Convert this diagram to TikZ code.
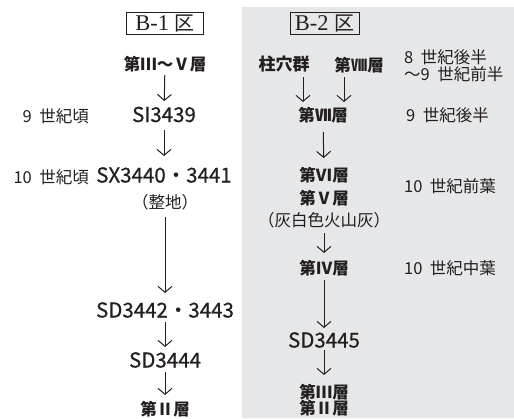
\documentclass[tikz,border=0pt]{standalone}
\usepackage{fontspec}
\setmainfont{Noto Sans CJK JP}
\newfontfamily\serifB{Liberation Serif}
\newfontfamily\codefont[FakeBold=0.6]{Noto Sans CJK JP}
\usetikzlibrary{arrows.meta}
\definecolor{panel}{RGB}{230,231,233}
\definecolor{ink}{RGB}{35,31,32}
\newcommand\boxlabel[1]{\fontsize{22.5}{23}\serifB #1\hspace{0.25em}\fontsize{20}{21}\normalfont 区}
\begin{document}
\begin{tikzpicture}[x=1pt,y=-1pt,
  every node/.style={text=ink, inner sep=0pt},
  ttl/.style={draw=ink, line width=0.9pt, minimum height=22pt},
  lay/.style={font=\fontsize{16.5}{18}\selectfont\bfseries},
  code/.style={font=\fontsize{20.5}{22}\codefont},
  era/.style={font=\fontsize{16.5}{17}\selectfont, align=left},
  note/.style={font=\fontsize{16.5}{18}\selectfont},
  arr/.style={draw=ink, line width=1pt, -{Straight Barb[length=6pt,width=14pt]}}]
\useasboundingbox (0,0) rectangle (514,418);
\fill[panel] (242,7) rectangle (514,418);
% left column
\node[ttl, minimum width=77pt] (b1) at (165,23.5) {\boxlabel{B-1}};
\node[lay] (l35) at (165,64) {第Ⅲ〜Ⅴ層};
\node[code] (si) at (164,114.5) {SI3439};
\node[code] (sx) at (164,175) {SX3440・3441};
\node[note] (sei) at (165,202) {（整地）};
\node[code] (sd42) at (165,310) {SD3442・3443};
\node[code] (sd44) at (165,360) {SD3444};
\node[lay] (l2a) at (165,409) {第Ⅱ層};
\node[era, anchor=east] (e9) at (89,116) {9\hspace{0.45em}世紀頃};
\node[era, anchor=east] (e10) at (89,177) {10\hspace{0.45em}世紀頃};
\draw[arr, shorten <=11pt, shorten >=13.5pt] (l35.center) -- (si.center);
\draw[arr, shorten <=15.5pt, shorten >=19pt] (si.center) -- (sx.center);
\draw[arr, shorten <=15pt, shorten >=17pt] (sei.center) -- (sd42.center);
\draw[arr, shorten <=12pt, shorten >=13pt] (sd42.center) -- (sd44.center);
\draw[arr, shorten <=12pt, shorten >=14pt] (sd44.center) -- (l2a.center);
% right column
\node[ttl, minimum width=69pt] (b2) at (324.5,23.5) {\boxlabel{B-2}};
\node[font=\fontsize{17}{18}\selectfont\bfseries] (zk) at (284,64) {柱穴群};
\node[lay] (l8) at (359,65) {第Ⅷ層};
\node[lay] (l7) at (323,115) {第Ⅶ層};
\node[lay] (l6) at (324,175) {第Ⅵ層};
\node[lay] (l5) at (324,198) {第Ⅴ層};
\node[note] (ash) at (324,220) {（灰白色火山灰）};
\node[lay] (l4) at (324,268) {第Ⅳ層};
\node[code] (sd45) at (324,340) {SD3445};
\node[lay] (l3) at (324,392) {第Ⅲ層};
\node[lay] (l2b) at (324,408) {第Ⅱ層};
\node[era, anchor=west] (e8) at (404,66) {8\hspace{0.45em}世紀後半\\〜9\hspace{0.45em}世紀前半};
\node[era, anchor=west] (e9b) at (406,115) {9\hspace{0.45em}世紀後半};
\node[era, anchor=west] (e10a) at (404,186) {10\hspace{0.45em}世紀前葉};
\node[era, anchor=west] (e10m) at (404,268) {10\hspace{0.45em}世紀中葉};
\draw[arr, shorten <=13pt, shorten >=13pt] ([xshift=19pt]zk.center) -- ([xshift=-20pt]l7.center);
\draw[arr, shorten <=12pt, shorten >=13pt] ([xshift=-15pt]l8.center) -- ([xshift=21pt]l7.center);
\draw[arr, shorten <=17pt, shorten >=17pt] (l7.center) -- (l6.center);
\draw[arr, shorten <=13pt, shorten >=15pt] (ash.center) -- (l4.center);
\draw[arr, shorten <=12pt, shorten >=12pt] (l4.center) -- (sd45.center);
\draw[arr, shorten <=10pt, shorten >=17pt] (sd45.center) -- (l3.center);
\end{tikzpicture}
\end{document}
